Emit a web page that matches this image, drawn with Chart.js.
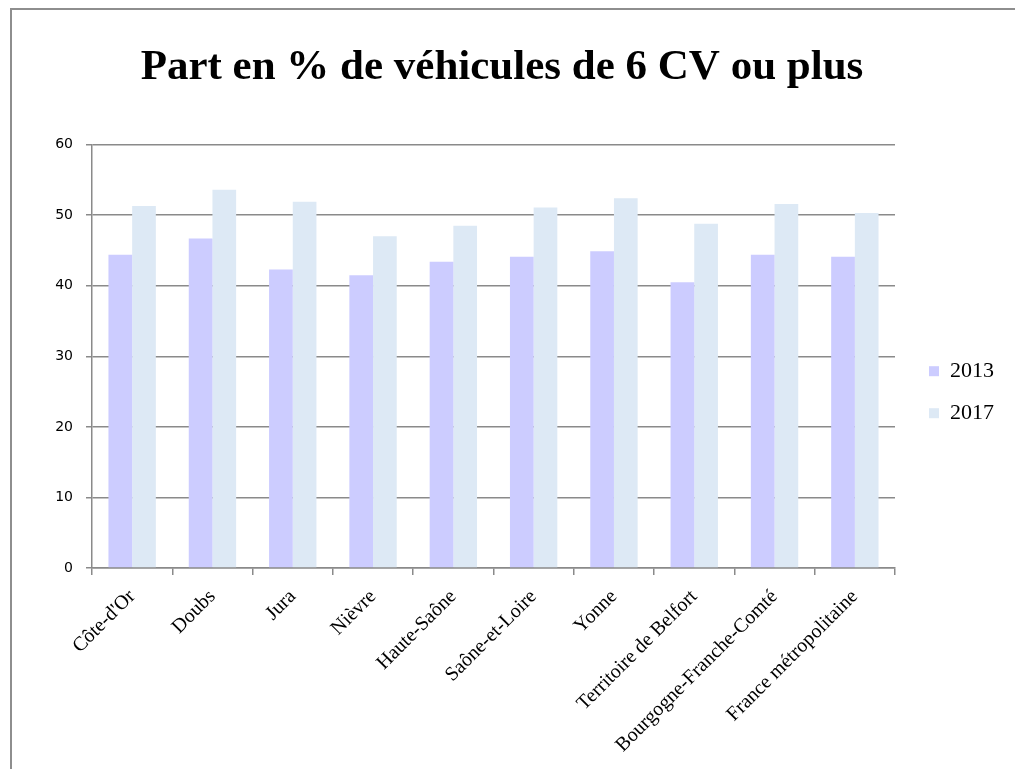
<!DOCTYPE html>
<html>
<head>
<meta charset="utf-8">
<script src="https://cdn.jsdelivr.net/npm/chart.js@4/dist/chart.umd.min.js"></script>
<style>
  html, body { margin: 0; padding: 0; background: #fff; overflow: hidden; }
  #frame { position: absolute; left: 10px; top: 8px; width: 1100px; height: 900px;
           border-left: 2px solid #8e8e8e; border-top: 2px solid #8e8e8e; }
  #wrap { position: absolute; left: 0; top: 0; width: 1015px; height: 769px; }
</style>
</head>
<body>
<div id="frame"></div>
<div id="wrap"><canvas id="c" width="1015" height="769"></canvas></div>
<script>
const categories = ["Côte-d'Or", "Doubs", "Jura", "Nièvre", "Haute-Saône", "Saône-et-Loire", "Yonne", "Territoire de Belfort", "Bourgogne-Franche-Comté", "France métropolitaine"];
const values2013 = [44.4, 46.7, 42.3, 41.5, 43.4, 44.1, 44.9, 40.5, 44.4, 44.1];
const values2017 = [51.3, 53.6, 51.9, 47.0, 48.5, 51.1, 52.4, 48.8, 51.6, 50.3];
const seriesNames = ["2013", "2017"];
const titleText = "Part en % de véhicules de 6 CV ou plus";
const yTicks = [0, 10, 20, 30, 40, 50, 60];

const gridColor = '#8a8a8a';
const serif = "'Liberation Serif', 'Times New Roman', serif";

new Chart(document.getElementById('c'), {
  type: 'bar',
  data: {
    labels: categories,
    datasets: [
      { label: seriesNames[0], data: values2013, backgroundColor: '#ccccff', borderWidth: 0 },
      { label: seriesNames[1], data: values2017, backgroundColor: '#dde9f5', borderWidth: 0 }
    ]
  },
  options: {
    responsive: false,
    animation: false,
    devicePixelRatio: 1,
    layout: { padding: { left: 0, right: 11, top: 0, bottom: 0 } },
    datasets: { bar: { categoryPercentage: 0.59, barPercentage: 1.0 } },
    plugins: {
      title: {
        display: true,
        text: titleText,
        color: '#000',
        font: { family: serif, size: 43, weight: 'bold', lineHeight: 1.2 },
        padding: { top: 42, bottom: 51 }
      },
      legend: {
        position: 'right',
        align: 'center',
        title: { display: true, text: ' ', font: { size: 12, lineHeight: 1.2 }, padding: { top: 0, bottom: 1 } },
        labels: {
          boxWidth: 10, boxHeight: 10, padding: 20, color: '#000',
          font: { family: serif, size: 22 }
        }
      },
      tooltip: { enabled: false }
    },
    scales: {
      x: {
        grid: { display: true, drawOnChartArea: false, drawTicks: true, tickLength: 7, color: gridColor, lineWidth: 1.5, offset: true },
        border: { display: true, color: gridColor, width: 1.5 },
        ticks: {
          minRotation: 45, maxRotation: 45, autoSkip: false, padding: 10, color: '#000',
          font: { family: serif, size: 20 }
        },
        afterFit: (s) => { s.height = 201; }
      },
      y: {
        min: 0, max: 60,
        afterBuildTicks: (s) => { s.ticks = yTicks.map(v => ({ value: v })); },
        grid: { color: gridColor, lineWidth: 1.5, tickLength: 6, drawTicks: true },
        border: { display: true, color: gridColor, width: 1.5 },
        ticks: {
          padding: 13, color: '#000',
          font: { family: "'DejaVu Sans', Verdana, sans-serif", size: 14 }
        },
        afterFit: (s) => { s.width = 92; }
      },
      gap: {
        type: 'linear', position: 'right', display: true,
        grid: { display: false, drawOnChartArea: false, drawTicks: false },
        border: { display: false },
        ticks: { display: false },
        afterFit: (s) => { s.width = 14; }
      }
    }
  }
});
</script>
</body>
</html>
